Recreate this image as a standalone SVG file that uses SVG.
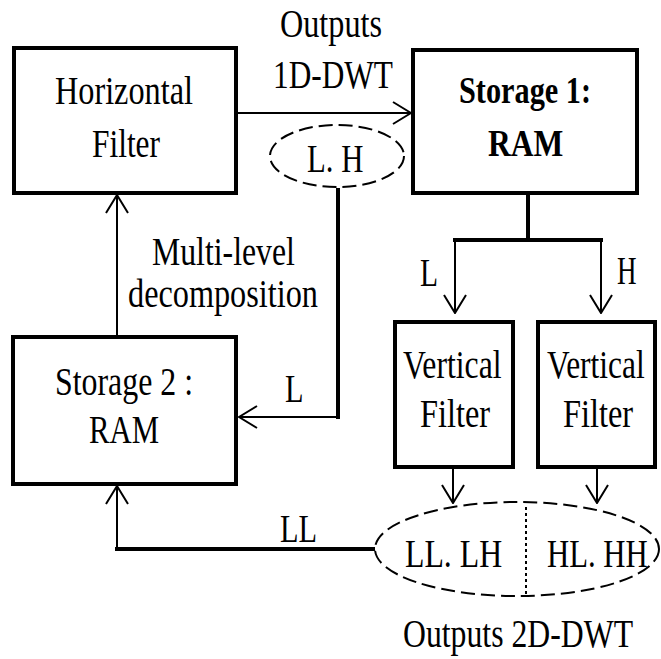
<svg xmlns="http://www.w3.org/2000/svg" width="661" height="659" viewBox="0 0 661 659">
<style>
.box{fill:#fff;stroke:#000;stroke-width:4}
.t{font-family:"Liberation Serif","Times New Roman",serif;font-size:41px;fill:#000}
.b{font-weight:bold;font-size:38px}
.thin{fill:none;stroke:#000;stroke-width:2}
.thick{fill:none;stroke:#000;stroke-width:4}
.dash{fill:none;stroke:#000;stroke-width:2;stroke-dasharray:14 6}
</style>
<defs>
<marker id="ah" viewBox="0 0 20 24" refX="19" refY="12" markerWidth="20" markerHeight="24" markerUnits="userSpaceOnUse" orient="auto">
<path d="M1,1 L19,12 L1,23" fill="none" stroke="#000" stroke-width="2"/>
</marker>
</defs>
<rect width="661" height="659" fill="#fff"/>
<g id="connectors">
<line class="thin" x1="236" y1="113" x2="411" y2="113" marker-end="url(#ah)"/>
<text class="t" transform="translate(280 37) scale(0.786 1)">Outputs</text>
<text class="t" transform="translate(273 88) scale(0.764 1)">1D-DWT</text>
<line class="thick" x1="528" y1="193" x2="528" y2="240"/>
<line class="thick" x1="453" y1="240" x2="603" y2="240"/>
<line class="thin" x1="455" y1="240" x2="455" y2="313" marker-end="url(#ah)"/>
<line class="thin" x1="601" y1="240" x2="601" y2="313" marker-end="url(#ah)"/>
<text class="t" transform="translate(420 286) scale(0.72 1)">L</text>
<text class="t" transform="translate(617 284) scale(0.66 1)">H</text>
<polyline class="thick" points="338,188 338,417 336,417"/>
<line class="thin" x1="338" y1="417" x2="239" y2="417" marker-end="url(#ah)"/>
<text class="t" transform="translate(285 402) scale(0.74 1)">L</text>
<line class="thin" x1="117" y1="337" x2="117" y2="195" marker-end="url(#ah)"/>
<text class="t" transform="translate(152 265) scale(0.775 1)">Multi-level</text>
<text class="t" transform="translate(128 307) scale(0.787 1)">decomposition</text>
<line class="thick" x1="375" y1="549" x2="115" y2="549"/>
<line class="thin" x1="117" y1="549" x2="117" y2="486" marker-end="url(#ah)"/>
<text class="t" transform="translate(280 542) scale(0.74 1)">LL</text>
<line class="thin" x1="453" y1="467" x2="453" y2="503" marker-end="url(#ah)"/>
<line class="thin" x1="597" y1="467" x2="597" y2="503" marker-end="url(#ah)"/>
</g>
<g id="lh-ellipse">
<ellipse class="dash" cx="337" cy="156" rx="67" ry="31"/>
<text class="t" transform="translate(307 172) scale(0.75 1)">L. H</text>
</g>
<g id="horizontal-filter">
<rect class="box" x="14" y="48" width="222" height="145"/>
<text class="t" transform="translate(55 104) scale(0.787 1)">Horizontal</text>
<text class="t" transform="translate(92 157) scale(0.766 1)">Filter</text>
</g>
<g id="storage1">
<rect class="box" x="413" y="50" width="224" height="143"/>
<text class="t b" transform="translate(459 103) scale(0.797 1)">Storage 1:</text>
<text class="t b" transform="translate(488 156) scale(0.83 1)">RAM</text>
</g>
<g id="storage2">
<rect class="box" x="13" y="337" width="223" height="147"/>
<text class="t" transform="translate(55 395) scale(0.777 1)">Storage 2 :</text>
<text class="t" transform="translate(89 443) scale(0.75 1)">RAM</text>
</g>
<g id="vertical-filter-1">
<rect class="box" x="395" y="322" width="118" height="145"/>
<text class="t" transform="translate(403 378) scale(0.773 1)">Vertical</text>
<text class="t" transform="translate(420 427) scale(0.79 1)">Filter</text>
</g>
<g id="vertical-filter-2">
<rect class="box" x="538" y="322" width="117" height="145"/>
<text class="t" transform="translate(547 378) scale(0.766 1)">Vertical</text>
<text class="t" transform="translate(563 427) scale(0.79 1)">Filter</text>
</g>
<g id="output-ellipse">
<ellipse class="dash" cx="517" cy="549" rx="142" ry="47"/>
<line x1="526" y1="507" x2="526" y2="597" stroke="#000" stroke-width="2" stroke-dasharray="3 3"/>
<text class="t" transform="translate(405 567) scale(0.776 1)">LL. LH</text>
<text class="t" transform="translate(547 567) scale(0.75 1)">HL. HH</text>
<text class="t" transform="translate(403 647) scale(0.774 1)">Outputs 2D-DWT</text>
</g>
</svg>
